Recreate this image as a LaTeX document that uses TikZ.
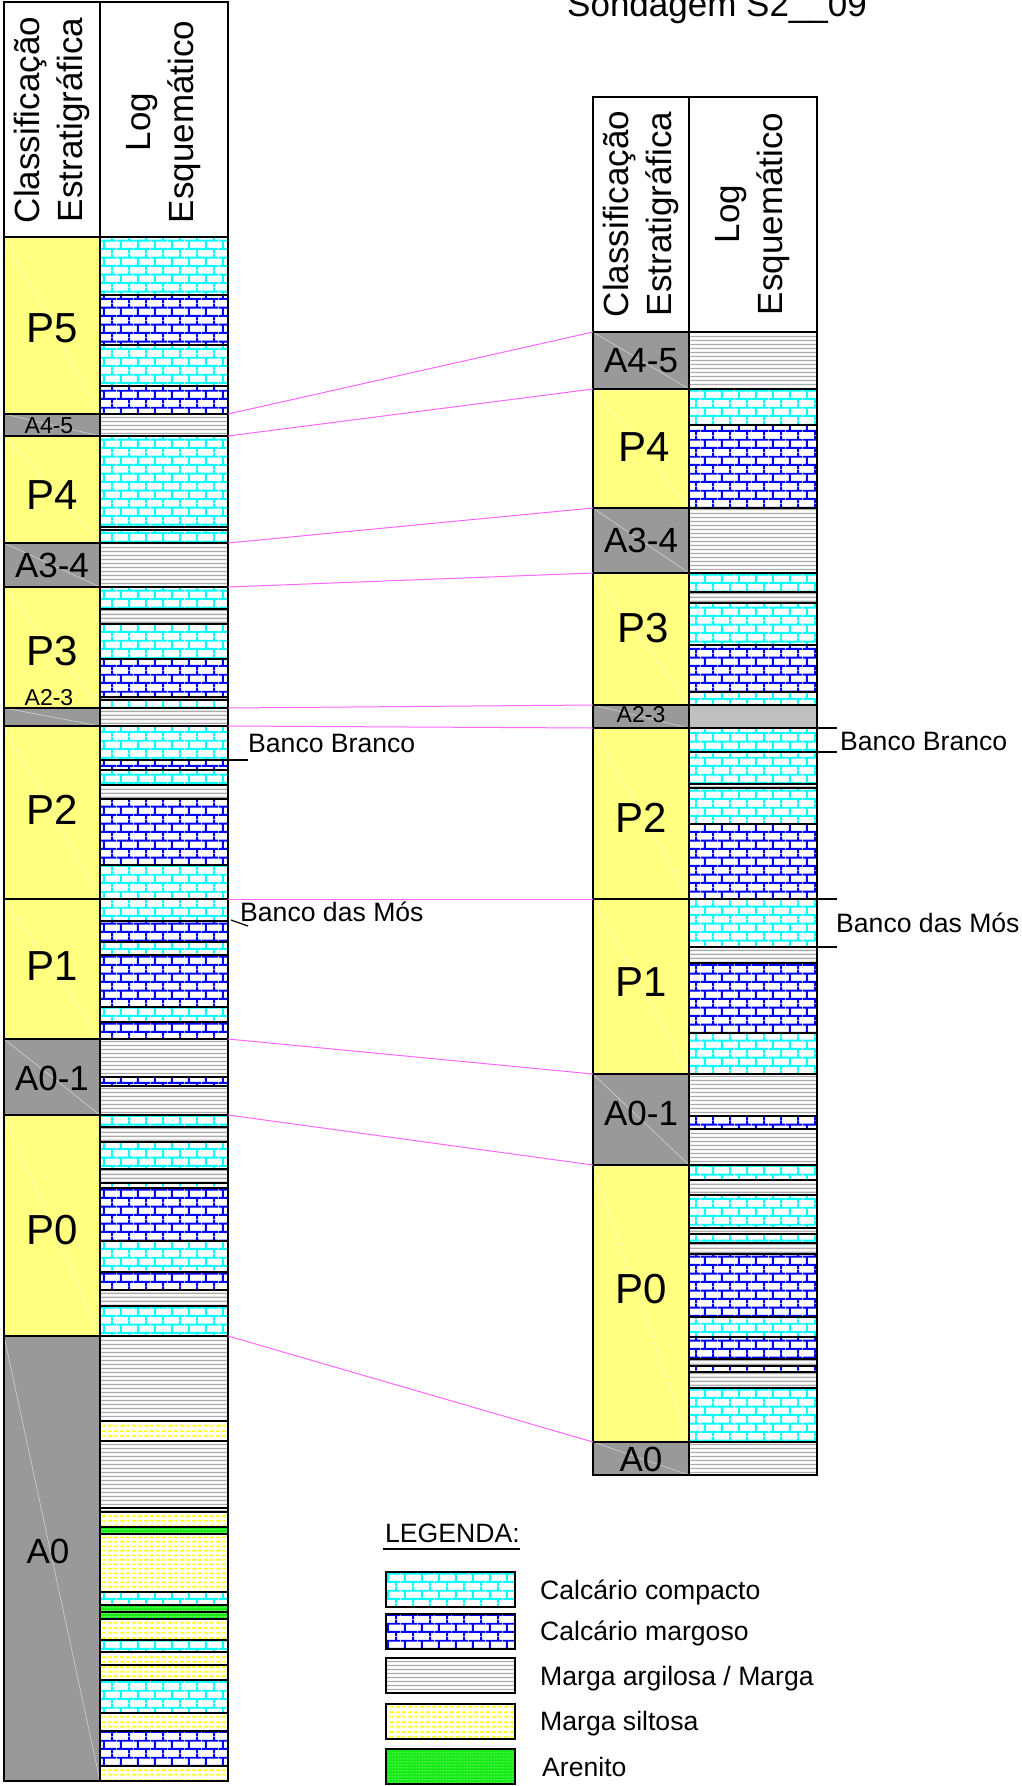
\documentclass[tikz,border=0pt]{standalone}
\usepackage{fontspec}
\setmainfont{Liberation Sans}
\usetikzlibrary{patterns.meta}
\definecolor{yelc}{RGB}{255,255,128}
\definecolor{gryc}{RGB}{153,153,153}
\definecolor{magc}{RGB}{255,102,255}
\definecolor{cyac}{RGB}{0,255,255}
\definecolor{bluc}{RGB}{0,0,255}
\definecolor{mglc}{RGB}{172,172,172}
\definecolor{silc}{RGB}{255,255,0}
\definecolor{arec}{RGB}{20,235,20}
\definecolor{a23c}{RGB}{192,192,192}

\tikzdeclarepattern{name=bricks, type=uncolored,
  bounding box={(0pt,0pt) and (16.7pt,16.66pt)},
  tile size={(16.7pt,16.66pt)},
  code={\draw[line width=2pt] (0pt,4.165pt) -- (16.7pt,4.165pt) (0pt,12.495pt) -- (16.7pt,12.495pt)
        (4pt,4.165pt) -- (4pt,12.495pt) (12.35pt,12.495pt) -- (12.35pt,16.66pt) (12.35pt,0pt) -- (12.35pt,4.165pt);}}
\tikzdeclarepattern{name=mglines, type=colored,
  bounding box={(0pt,0pt) and (8pt,3.5pt)},
  tile size={(8pt,3.5pt)},
  code={\fill[mglc] (0pt,1pt) rectangle (8pt,2.5pt);}}
\tikzdeclarepattern{name=siltd, type=colored,
  bounding box={(0pt,0pt) and (12pt,9.4pt)},
  tile size={(12pt,9.4pt)},
  code={\draw[silc, line width=1.8pt] (0.3pt,2.35pt) -- (4.8pt,2.35pt) (6pt,2.35pt) -- (7.2pt,2.35pt) (8.4pt,2.35pt) -- (9.6pt,2.35pt)
        (6.3pt,7.05pt) -- (10.8pt,7.05pt) (0pt,7.05pt) -- (1.2pt,7.05pt) (2.4pt,7.05pt) -- (3.6pt,7.05pt);}}
\tikzdeclarepattern{name=sandd, type=colored,
  bounding box={(0pt,0pt) and (3pt,3pt)},
  tile size={(3pt,3pt)},
  code={\fill[arec!35!white] (1.5pt,1.5pt) circle (0.6pt);}}

\tikzset{
 lcc/.style={fill=white, postaction={pattern=bricks, pattern color=cyac}},
 lcm/.style={fill=white, postaction={pattern=bricks, pattern color=bluc}},
 lmg/.style={fill=white, postaction={pattern=mglines}},
 lms/.style={fill=white, postaction={pattern=siltd}},
 lar/.style={fill=arec, postaction={pattern=sandd}},
 lpg/.style={fill=a23c},
 yel/.style={fill=yelc}, gry/.style={fill=gryc},
 sepl/.style={line width=1.3pt, black},
 bndl/.style={line width=1.6pt, black},
 brd/.style={line width=1.8pt, black},
 diagl/.style={white, opacity=0.55, line width=0.6pt},
 plab/.style={font=\fontsize{42}{50}\selectfont, inner sep=0pt},
 alab/.style={font=\fontsize{35}{42}\selectfont, inner sep=0pt},
 slab/.style={font=\fontsize{23}{28}\selectfont, inner sep=0pt},
 hdr/.style={font=\fontsize{35}{43}\selectfont, rotate=90, align=center, inner sep=0pt},
 txt/.style={font=\fontsize{26.6}{32}\selectfont, inner sep=0pt, anchor=base west},
 magl/.style={magc, line width=1pt},
 tick/.style={black, line width=1.2pt},
}
\newcommand\lyr[5]{\path[#5] (#1,#3) rectangle (#2,#4);
  \draw[sepl] (#1,#3) -- (#2,#3) (#1,#4) -- (#2,#4);}
\newcommand\leftlay[3]{\lyr{100}{228}{#1}{#2}{#3}}
\newcommand\rightlay[3]{\lyr{689}{817}{#1}{#2}{#3}}
\newcommand\ccell[5]{\fill[#5] (#1,#3) rectangle (#2,#4); \draw[diagl] (#1,#3) -- (#2,#4);}

\begin{document}
\begin{tikzpicture}[x=1pt, y=-1pt]
\useasboundingbox (0,0) rectangle (1021,1786);

% title
\node[font=\fontsize{35}{42}\selectfont, inner sep=0pt, anchor=base west] (title) at (567,16) {Sondagem S2\_\_09};

% ===== left column =====
\ccell{4}{100}{237}{414}{yel}
\ccell{4}{100}{414}{436}{gry}
\ccell{4}{100}{436}{543}{yel}
\ccell{4}{100}{543}{587}{gry}
\ccell{4}{100}{587}{708}{yel}
\ccell{4}{100}{708}{726}{gry}
\ccell{4}{100}{726}{899}{yel}
\ccell{4}{100}{899}{1039}{yel}
\ccell{4}{100}{1039}{1115}{gry}
\ccell{4}{100}{1115}{1336}{yel}
\ccell{4}{100}{1336}{1781}{gry}

\leftlay{237}{295}{lcc}
\leftlay{295}{345}{lcm}
\leftlay{345}{386}{lcc}
\leftlay{386}{414}{lcm}
\leftlay{414}{436}{lmg}
\leftlay{436}{527}{lcc}
\leftlay{527}{530}{lmg}
\leftlay{530}{543}{lcc}
\leftlay{543}{587}{lmg}
\leftlay{587}{609}{lcc}
\leftlay{609}{624}{lmg}
\leftlay{624}{659}{lcc}
\leftlay{659}{697}{lcm}
\leftlay{697}{700}{lmg}
\leftlay{700}{708}{lcc}
\leftlay{708}{726}{lmg}
\leftlay{726}{760}{lcc}
\leftlay{760}{770}{lcm}
\leftlay{770}{785}{lcc}
\leftlay{785}{799}{lmg}
\leftlay{799}{865}{lcm}
\leftlay{865}{899}{lcc}
\leftlay{899}{921}{lcc}
\leftlay{921}{942}{lcm}
\leftlay{942}{955}{lcc}
\leftlay{955}{1007}{lcm}
\leftlay{1007}{1022}{lcc}
\leftlay{1022}{1039}{lcm}
\leftlay{1039}{1077}{lmg}
\leftlay{1077}{1086}{lcm}
\leftlay{1086}{1115}{lmg}
\leftlay{1115}{1127}{lcc}
\leftlay{1127}{1142}{lmg}
\leftlay{1142}{1169}{lcc}
\leftlay{1169}{1183}{lmg}
\leftlay{1183}{1188}{lcc}
\leftlay{1188}{1241}{lcm}
\leftlay{1241}{1272}{lcc}
\leftlay{1272}{1290}{lcm}
\leftlay{1290}{1306}{lmg}
\leftlay{1306}{1336}{lcc}
\leftlay{1336}{1421}{lmg}
\leftlay{1421}{1441}{lms}
\leftlay{1441}{1508}{lmg}
\leftlay{1508}{1512}{lmg}
\leftlay{1512}{1527}{lms}
\leftlay{1527}{1534}{lar}
\leftlay{1534}{1592}{lms}
\leftlay{1592}{1605}{lcc}
\leftlay{1605}{1612}{lar}
\leftlay{1612}{1619}{lar}
\leftlay{1619}{1640}{lms}
\leftlay{1640}{1652}{lcc}
\leftlay{1652}{1665}{lms}
\leftlay{1665}{1680}{lms}
\leftlay{1680}{1713}{lcc}
\leftlay{1713}{1731}{lms}
\leftlay{1731}{1766}{lcm}
\leftlay{1766}{1781}{lms}

\foreach \yy in {237,414,436,543,587,708,726,899,1039,1115,1336}
  \draw[bndl] (4,\yy) -- (228,\yy);
\draw[brd] (4,2) rectangle (228,1781);
\draw[brd] (100,2) -- (100,1781);

\node[hdr] (lhc) at (52,120) {Classificação\\Estratigráfica};
\node[hdr] (lhl) at (164,122) {Log\\Esquemático};

\node[plab] (lP5) at (52,328) {P5};
\node[slab] (lA45) at (49,426) {A4-5};
\node[plab] (lP4) at (52,495) {P4};
\node[alab] (lA34) at (52,565) {A3-4};
\node[plab] (lP3) at (52,651) {P3};
\node[slab] (lA23) at (49,698) {A2-3};
\node[plab] (lP2) at (52,810) {P2};
\node[plab] (lP1) at (52,966) {P1};
\node[alab] (lA01) at (52,1078) {A0-1};
\node[plab] (lP0) at (52,1230) {P0};
\node[alab] (lA0) at (48,1551) {A0};

% ===== right column =====
\ccell{593}{689}{332}{389}{gry}
\ccell{593}{689}{389}{508}{yel}
\ccell{593}{689}{508}{573}{gry}
\ccell{593}{689}{573}{705}{yel}
\ccell{593}{689}{705}{728}{gry}
\ccell{593}{689}{728}{899}{yel}
\ccell{593}{689}{899}{1074}{yel}
\ccell{593}{689}{1074}{1165}{gry}
\ccell{593}{689}{1165}{1442}{yel}
\ccell{593}{689}{1442}{1475}{gry}

\rightlay{332}{389}{lmg}
\rightlay{389}{425}{lcc}
\rightlay{425}{508}{lcm}
\rightlay{508}{573}{lmg}
\rightlay{573}{592}{lcc}
\rightlay{592}{603}{lmg}
\rightlay{603}{645}{lcc}
\rightlay{645}{692}{lcm}
\rightlay{692}{705}{lcc}
\rightlay{705}{728}{lpg}
\rightlay{728}{752}{lcc}
\rightlay{752}{784}{lcc}
\rightlay{784}{788}{lmg}
\rightlay{788}{824}{lcc}
\rightlay{824}{899}{lcm}
\rightlay{899}{947}{lcc}
\rightlay{947}{963}{lmg}
\rightlay{963}{1033}{lcm}
\rightlay{1033}{1074}{lcc}
\rightlay{1074}{1116}{lmg}
\rightlay{1116}{1129}{lcm}
\rightlay{1129}{1165}{lmg}
\rightlay{1165}{1180}{lcc}
\rightlay{1180}{1195}{lmg}
\rightlay{1195}{1228}{lcc}
\rightlay{1228}{1234}{lmg}
\rightlay{1234}{1243}{lcc}
\rightlay{1243}{1254}{lmg}
\rightlay{1254}{1317}{lcm}
\rightlay{1317}{1337}{lcc}
\rightlay{1337}{1359}{lcm}
\rightlay{1359}{1366}{lmg}
\rightlay{1366}{1372}{lcm}
\rightlay{1372}{1388}{lmg}
\rightlay{1388}{1442}{lcc}
\rightlay{1442}{1475}{lmg}

\foreach \yy in {332,389,508,573,705,728,899,1074,1165,1442}
  \draw[bndl] (593,\yy) -- (817,\yy);
\draw[brd] (593,97) rectangle (817,1475);
\draw[brd] (689,97) -- (689,1475);

\node[hdr] (rhc) at (641,214) {Classificação\\Estratigráfica};
\node[hdr] (rhl) at (753,214) {Log\\Esquemático};

\node[alab] (rA45) at (641,361) {A4-5};
\node[plab] (rP4) at (644,447) {P4};
\node[alab] (rA34) at (641,540) {A3-4};
\node[plab] (rP3) at (643,628) {P3};
\node[slab] (rA23) at (641,715) {A2-3};
\node[plab] (rP2) at (641,818) {P2};
\node[plab] (rP1) at (641,982) {P1};
\node[alab] (rA01) at (641,1113) {A0-1};
\node[plab] (rP0) at (641,1289) {P0};
\node[alab] (rA0) at (641,1459) {A0};

% ===== correlation lines =====
\coordinate (mL1) at (228,414);  \coordinate (mR1) at (593,332);
\coordinate (mL2) at (228,436);  \coordinate (mR2) at (593,389);
\coordinate (mL3) at (228,543);  \coordinate (mR3) at (593,508);
\coordinate (mL4) at (228,587);  \coordinate (mR4) at (593,573);
\coordinate (mL5) at (228,708);  \coordinate (mR5) at (593,705);
\coordinate (mL6) at (228,726);  \coordinate (mR6) at (593,728);
\coordinate (mL7) at (228,899);  \coordinate (mR7) at (593,899);
\coordinate (mL8) at (228,1039); \coordinate (mR8) at (593,1074);
\coordinate (mL9) at (228,1115); \coordinate (mR9) at (593,1165);
\coordinate (mL10) at (228,1336); \coordinate (mR10) at (593,1442);
\foreach \i in {1,...,10} \draw[magl] (mL\i) -- (mR\i);

% ===== bank labels =====
\node[txt] (bbL) at (248,752) {Banco Branco};
\coordinate (bbLa) at (228,760); \coordinate (bbLb) at (248,760);
\draw[tick] (bbLa) -- (bbLb);
\node[txt] (bmL) at (240,921.5) {Banco das Mós};
\coordinate (bmLa) at (231,920); \coordinate (bmLb) at (248,926);
\draw[tick] (bmLa) -- (bmLb);

\node[txt] (bbR) at (840,750) {Banco Branco};
\coordinate (bbRa) at (817,728); \coordinate (bbRb) at (837,728);
\coordinate (bbRc) at (817,752); \coordinate (bbRd) at (837,752);
\draw[tick] (bbRa) -- (bbRb) (bbRc) -- (bbRd);
\node[txt] (bmR) at (836,932.5) {Banco das Mós};
\coordinate (bmRa) at (817,899); \coordinate (bmRb) at (837,899);
\coordinate (bmRc) at (817,947); \coordinate (bmRd) at (837,947);
\draw[tick] (bmRa) -- (bmRb) (bmRc) -- (bmRd);

% ===== legend =====
\node[txt] (leg) at (385,1542) {LEGENDA:};
\draw[line width=1.3pt] (383,1549) -- (520,1549);
\path[lcc] (386,1572) rectangle (515,1607); \draw[brd] (386,1572) rectangle (515,1607);
\path[lcm] (386,1614) rectangle (515,1649); \draw[brd] (386,1614) rectangle (515,1649);
\path[lmg] (386,1658) rectangle (515,1693); \draw[brd] (386,1658) rectangle (515,1693);
\path[lms] (386,1704) rectangle (515,1739); \draw[brd] (386,1704) rectangle (515,1739);
\path[lar] (386,1749) rectangle (515,1784); \draw[brd] (386,1749) rectangle (515,1784);
\node[txt] (t1) at (540,1599) {Calcário compacto};
\node[txt] (t2) at (540,1640) {Calcário margoso};
\node[txt] (t3) at (540,1685) {Marga argilosa / Marga};
\node[txt] (t4) at (540,1730) {Marga siltosa};
\node[txt] (t5) at (542,1776) {Arenito};
\end{tikzpicture}
\end{document}
